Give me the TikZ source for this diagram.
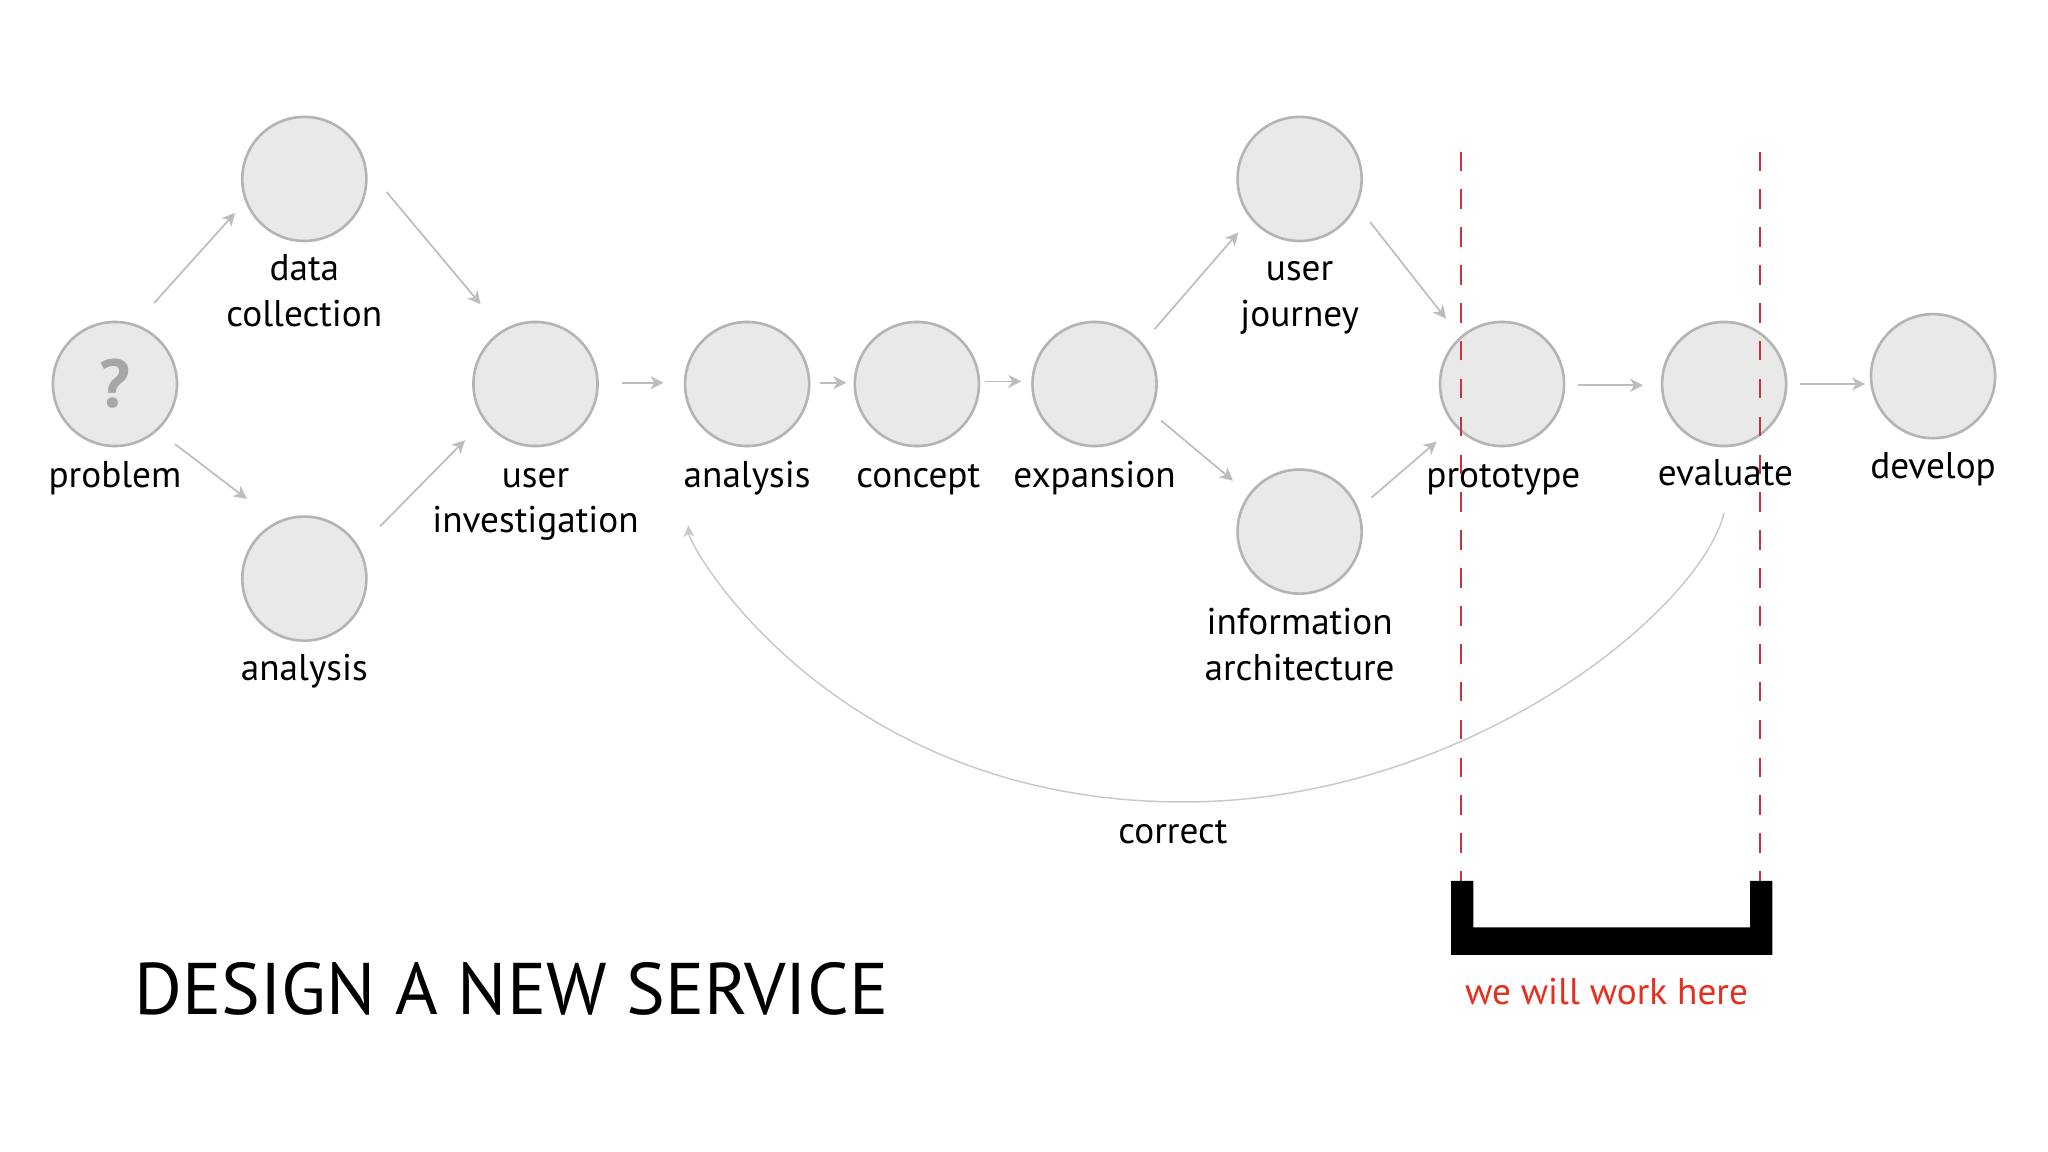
\documentclass[tikz,border=0pt]{standalone}
\usepackage{fontspec}
\setmainfont{PT Sans}
\usetikzlibrary{calc,arrows.meta}
\definecolor{circfill}{HTML}{E9E9E9}
\definecolor{circline}{HTML}{B4B4B4}
\definecolor{arrcol}{HTML}{BDBDBD}
\definecolor{curvecol}{HTML}{C8C8C8}
\definecolor{qcol}{HTML}{A6A6A6}
\definecolor{redline}{HTML}{C8323C}
\definecolor{redtext}{HTML}{E4301E}
\begin{document}
\begin{tikzpicture}[x=1pt,y=-1pt,
  stage/.style={circle, draw=circline, fill=circfill, line width=2pt, minimum size=95pt, inner sep=0pt},
  lbl/.style={font=\fontsize{28.5}{35}\selectfont, align=center, anchor=base, inner sep=0pt},
  arr/.style={draw=arrcol, line width=1.3pt, -{Stealth[length=10pt,width=10pt,inset=3pt]}},
  back/.style={draw=curvecol, line width=1.1pt, -{Stealth[length=9pt,width=8pt,inset=2.5pt]}},
  redl/.style={draw=redline, line width=1.4pt, dash pattern=on 15pt off 14pt}
]
\fill[white] (0,0) rectangle (1568,882);
\useasboundingbox (0,0) rectangle (1568,882);

% stages
\node[stage] (p)   at (88,294)   {\fontsize{52}{52}\selectfont\bfseries\color{qcol}?};
\node[stage] (dc)  at (233,137)  {};
\node[stage] (an1) at (233,443)  {};
\node[stage] (ui)  at (410,294)  {};
\node[stage] (an2) at (572,294)  {};
\node[stage] (co)  at (702,294)  {};
\node[stage] (ex)  at (838,294)  {};
\node[stage] (uj)  at (995,137)  {};
\node[stage] (ia)  at (995,407)  {};
\node[stage] (pr)  at (1150,294) {};
\node[stage] (ev)  at (1320,294) {};
\node[stage] (de)  at (1480,288) {};

% labels (multi-line labels are anchored at the baseline of their last line)
\node[lbl] (lp)   at (88,373)   {problem};
\node[lbl] (ldc)  at (233,250)  {data\\collection};
\node[lbl] (lan1) at (233,521)  {analysis};
\node[lbl] (lui)  at (410,408)  {user\\investigation};
\node[lbl] (lan2) at (572,373)  {analysis};
\node[lbl] (lco)  at (703,373)  {concept};
\node[lbl] (lex)  at (838,373)  {expansion};
\node[lbl] (luj)  at (995,250)  {user\\journey};
\node[lbl] (lia)  at (995,521)  {information\\architecture};
\node[lbl] (lpr)  at (1151,373) {prototype};
\node[lbl] (lev)  at (1321,372) {evaluate};
\node[lbl] (lde)  at (1480,366) {develop};
\node[lbl] (lcor) at (898,646)  {correct};

% arrows
\draw[arr] ($(p)+(30,-62)$)   -- ($(dc)+(-53,26)$);
\draw[arr] ($(p)+(46,46)$)    -- ($(an1)+(-44,-61)$);
\draw[arr] ($(dc)+(63,10)$)   -- ($(ui)+(-42,-61)$);
\draw[arr] ($(an1)+(58,-40)$) -- ($(ui)+(-54,43)$);
\draw[arr] ($(ui)+(66,-1)$)   -- ($(an2)+(-64,-1)$);
\draw[arr] ($(an2)+(56,-1)$)  -- ($(co)+(-54,-1)$);
\draw[arr] ($(co)+(52,-2)$)   -- ($(ex)+(-56,-2)$);
\draw[arr] ($(ex)+(46,-42)$)  -- ($(uj)+(-47,41)$);
\draw[arr] ($(ex)+(51,28)$)   -- ($(ia)+(-51,-39)$);
\draw[arr] ($(uj)+(54,33)$)   -- ($(pr)+(-43,-50)$);
\draw[arr] ($(ia)+(55,-26)$)  -- ($(pr)+(-50,44)$);
\draw[arr] ($(pr)+(58,1)$)    -- ($(ev)+(-62,1)$);
\draw[arr] ($(ev)+(58,0)$)    -- ($(de)+(-52,6)$);

% correction loop
\coordinate (cbot) at (906,614);
\draw[back] ($(ev)+(0,99)$) .. controls ($(ev)+(-20,176)$) and (1120,614) .. (cbot)
  .. controls (640,614) and (528,420) .. ($(an2)+(-45,108)$);

% work zone
\draw[redl] (1118.6,116) -- (1118.6,675);
\draw[redl] (1347.6,116) -- (1347.6,675);
\fill[black] (1111,674.5) -- (1128,674.5) -- (1128,710) -- (1340,710) -- (1340,674.5)
  -- (1357,674.5) -- (1357,731) -- (1111,731) -- cycle;
\node[lbl, text=redtext] (lwork) at (1230,769) {we will work here};

% title
\node[anchor=base west, inner sep=0pt, font=\fontsize{56}{60}\selectfont] (title) at (103,777) {DESIGN A NEW SERVICE};
\end{tikzpicture}
\end{document}
